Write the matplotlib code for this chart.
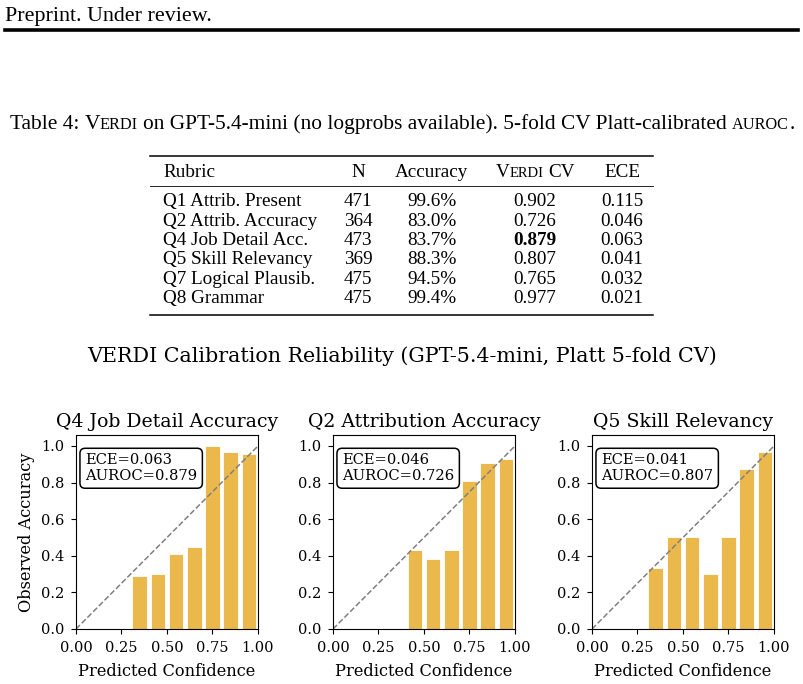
import matplotlib
matplotlib.use("Agg")
import matplotlib.pyplot as plt
import numpy as np

# table 4 values
rubrics = ["Q1 Attrib. Present", "Q2 Attrib. Accuracy", "Q4 Job Detail Acc.",
           "Q5 Skill Relevancy", "Q7 Logical Plausib.", "Q8 Grammar"]
n_items = [471, 364, 473, 369, 475, 475]
accuracy = [99.6, 83.0, 83.7, 88.3, 94.5, 99.4]
verdi_cv = [0.902, 0.726, 0.879, 0.807, 0.765, 0.977]
ece = [0.115, 0.046, 0.063, 0.041, 0.032, 0.021]
bold_row = 2

# reliability bins (bin centre, observed accuracy)
panel_titles = ["Q4 Job Detail Accuracy", "Q2 Attribution Accuracy", "Q5 Skill Relevancy"]
q4_conf = [0.35, 0.45, 0.55, 0.65, 0.75, 0.85, 0.95]
q4_acc = [0.29, 0.30, 0.41, 0.45, 1.00, 0.967, 0.958]
q2_conf = [0.45, 0.55, 0.65, 0.75, 0.85, 0.95]
q2_acc = [0.43, 0.38, 0.43, 0.81, 0.907, 0.927]
q5_conf = [0.35, 0.45, 0.55, 0.65, 0.75, 0.85, 0.95]
q5_acc = [0.333, 0.50, 0.50, 0.30, 0.50, 0.875, 0.967]
panel_ece = [0.063, 0.046, 0.041]
panel_auroc = [0.879, 0.726, 0.807]

W, H = 804, 684
PAGE_FONT = "Liberation Serif"
FIG_FONT = "DejaVu Serif"
bar_color = "#EBB84B"

fig = plt.figure(figsize=(W / 100, H / 100), dpi=100)
renderer = fig.canvas.get_renderer()


def fx(x):
    return x / W


def fy(y):
    return 1 - y / H


def page_text(x, y, s, size, ha="left", weight="normal"):
    return fig.text(fx(x), fy(y), s, fontsize=size, ha=ha, va="baseline",
                    family=PAGE_FONT, fontweight=weight)


def page_runs(x, y, runs, ha="left"):
    # runs of (text, size); ' ' means a plain word gap
    texts, widths = [], []
    for s, size in runs:
        if s == " ":
            texts.append(None)
            widths.append(size * 0.25 * 100 / 72)
            continue
        t = fig.text(0, fy(y), s, fontsize=size, va="baseline", family=PAGE_FONT)
        texts.append(t)
        widths.append(t.get_window_extent(renderer).width)
    total = sum(widths)
    x0 = x - total / 2 if ha == "center" else x
    for t, w in zip(texts, widths):
        if t is not None:
            t.set_x(fx(x0))
        x0 += w


def hrule(y, x0, x1, lw):
    fig.add_artist(plt.Line2D([fx(x0), fx(x1)], [fy(y), fy(y)], color="black", lw=lw,
                              transform=fig.transFigure))


# page header
page_text(5, 21, "Preprint. Under review.", 15.8)
hrule(29.5, 5, 798, 2.6)

# caption
cap = 15.4
sc = cap * 0.76
page_runs(402, 129, [("Table 4:", cap), (" ", cap), ("V", cap), ("ERDI", sc), (" ", cap),
                     ("on GPT-5.4-mini (no logprobs available). 5-fold CV Platt-calibrated", cap),
                     (" ", cap), ("AUROC", sc), (".", cap)], ha="center")

# table
ts = 13.8
hrule(156, 150, 653, 1.1)
hrule(186, 150, 653, 0.6)
hrule(315, 150, 653, 1.1)
head_y = 177
page_text(163, head_y, "Rubric", ts)
page_text(358, head_y, "N", ts, ha="center")
page_text(432, head_y, "Accuracy", ts, ha="center")
page_runs(535, head_y, [("V", ts), ("ERDI", ts * 0.76), (" ", ts), ("CV", ts)], ha="center")
page_text(622, head_y, "ECE", ts, ha="center")
for i in range(len(rubrics)):
    y = 206 + i * 19.5
    page_text(163, y, rubrics[i], ts)
    page_text(358, y, str(n_items[i]), ts, ha="center")
    page_text(432, y, f"{accuracy[i]:.1f}%", ts, ha="center")
    page_text(535, y, f"{verdi_cv[i]:.3f}", ts, ha="center",
              weight="bold" if i == bold_row else "normal")
    page_text(622, y, f"{ece[i]:.3f}", ts, ha="center")

# figure
fig.text(fx(402), fy(356), "VERDI Calibration Reliability (GPT-5.4-mini, Platt 5-fold CV)",
         ha="center", va="center", fontsize=14.9, family=FIG_FONT)

confs = [q4_conf, q2_conf, q5_conf]
accs = [q4_acc, q2_acc, q5_acc]
lefts = [76, 333, 592]
for k in range(3):
    ax = fig.add_axes([fx(lefts[k]), fy(629), fx(182), 194 / H])
    ax.bar(confs[k], accs[k], width=0.08, color=bar_color, edgecolor="white", linewidth=0.6)
    ax.plot([0, 1], [0, 1], ls="--", color="gray", lw=1.1)
    ax.set_xlim(0, 1)
    ax.set_ylim(0, 1.06)
    ax.set_xticks([0, 0.25, 0.5, 0.75, 1.0])
    ax.set_yticks([0, 0.2, 0.4, 0.6, 0.8, 1.0])
    ax.tick_params(labelsize=10.5, pad=5)
    for lab in ax.get_xticklabels() + ax.get_yticklabels():
        lab.set_family(FIG_FONT)
    ax.set_title(panel_titles[k], fontsize=13.6, family=FIG_FONT, pad=6)
    ax.set_xlabel("Predicted Confidence", fontsize=11.7, family=FIG_FONT, labelpad=6)
    if k == 0:
        ax.set_ylabel("Observed Accuracy", fontsize=11.7, family=FIG_FONT)
    ax.text(0.05, 0.905, f"ECE={panel_ece[k]:.3f}\nAUROC={panel_auroc[k]:.3f}",
            transform=ax.transAxes, va="top", ha="left", fontsize=10.6, family=FIG_FONT,
            linespacing=1.15,
            bbox=dict(boxstyle="round,pad=0.35", facecolor="white", edgecolor="black", lw=1.1))

fig.savefig("out.png", dpi=100)
